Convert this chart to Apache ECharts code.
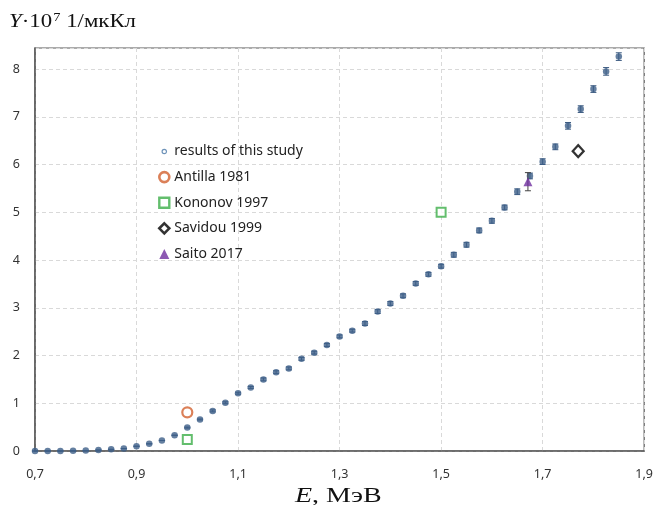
<!DOCTYPE html>
<html>
<head>
<meta charset="utf-8">
<script src="https://cdn.jsdelivr.net/npm/echarts@6/dist/echarts.min.js"></script>
<style>
  html, body { margin: 0; padding: 0; background: #fff; }
  #chart { width: 656px; height: 505px; }
</style>
</head>
<body>
<div id="chart"></div>
<script>
// this study: energy (MeV) and yield (x 1e7 1/uC)
const energies = [0.7, 0.725, 0.75, 0.775, 0.8, 0.825, 0.85, 0.875, 0.9, 0.925, 0.95, 0.975,
  1.0, 1.025, 1.05, 1.075, 1.1, 1.125, 1.15, 1.175, 1.2, 1.225, 1.25, 1.275, 1.3, 1.325,
  1.35, 1.375, 1.4, 1.425, 1.45, 1.475, 1.5, 1.525, 1.55, 1.575, 1.6, 1.625, 1.65, 1.675,
  1.7, 1.725, 1.75, 1.775, 1.8, 1.825, 1.85];
const yields = [0, 0, 0, 0.005, 0.01, 0.02, 0.035, 0.05, 0.1, 0.15, 0.22, 0.33,
  0.49, 0.66, 0.84, 1.01, 1.21, 1.33, 1.5, 1.65, 1.73, 1.93, 2.06, 2.22, 2.4, 2.52,
  2.67, 2.92, 3.09, 3.25, 3.51, 3.7, 3.87, 4.11, 4.32, 4.62, 4.82, 5.1, 5.43, 5.76,
  6.06, 6.37, 6.81, 7.16, 7.58, 7.95, 8.26];
const errors = [0, 0, 0, 0, 0, 0, 0, 0, 0, 0, 0, 0,
  0.01, 0.01, 0.02, 0.02, 0.02, 0.02, 0.03, 0.03, 0.03, 0.03, 0.03, 0.03, 0.03, 0.03,
  0.04, 0.04, 0.04, 0.04, 0.04, 0.04, 0.04, 0.05, 0.05, 0.05, 0.05, 0.05, 0.06, 0.06,
  0.06, 0.06, 0.07, 0.07, 0.07, 0.08, 0.08];

// other works
const antilla = [[1.0, 0.81]];
const kononov = [[1.0, 0.24], [1.5, 5.0]];
const savidou = [[1.77, 6.28]];
const saito = [[1.671, 5.64]];
const saitoErr = [0.19];

const xTicks = ['0,7', '0,9', '1,1', '1,3', '1,5', '1,7', '1,9'];

const studyData = energies.map((e, i) => [e, yields[i]]);
const studyErr = energies.map((e, i) => [e, yields[i] - errors[i], yields[i] + errors[i]]);
const saitoErrData = saito.map((p, i) => [p[0], p[1] - saitoErr[i], p[1] + saitoErr[i]]);

const errRender = (color) => (params, api) => {
  const lo = api.coord([api.value(0), api.value(1)]);
  const hi = api.coord([api.value(0), api.value(2)]);
  const w = 3;
  const st = { stroke: color, lineWidth: 1 };
  return {
    type: 'group',
    children: [
      { type: 'line', shape: { x1: lo[0], y1: lo[1], x2: hi[0], y2: hi[1] }, style: st },
      { type: 'line', shape: { x1: lo[0] - w, y1: lo[1], x2: lo[0] + w, y2: lo[1] }, style: st },
      { type: 'line', shape: { x1: hi[0] - w, y1: hi[1], x2: hi[0] + w, y2: hi[1] }, style: st }
    ]
  };
};

// small open circle centred in a 10x10 box for the legend
const smallCircle = 'path://M0,0M10,10M5,2.8A2.2,2.2,0,1,1,5,7.2A2.2,2.2,0,1,1,5,2.8Z';

const labelFont = 'Noto Sans';
const chart = echarts.init(document.getElementById('chart'));
chart.setOption({
  animation: false,
  grid: { left: 35, right: 11, top: 48, bottom: 54, show: true, borderColor: '#595959', borderWidth: 1.2 },
  graphic: [
    {
      type: 'text', x: 9, y: 22, scaleX: 1.2,
      style: {
        text: '{i|Y}·10{s|7} 1/мкКл',
        verticalAlign: 'middle',
        rich: {
          i: { fontFamily: 'Liberation Serif', fontStyle: 'italic', fontSize: 19, fill: '#111' },
          s: { fontFamily: 'Liberation Serif', fontSize: 12, verticalAlign: 'top', padding: [0, 0, 9, 1], fill: '#111' }
        },
        fontFamily: 'Liberation Serif', fontSize: 19, fill: '#111'
      }
    },
    {
      type: 'text', x: 295, y: 497, scaleX: 1.4,
      style: {
        text: '{i|E}, МэВ',
        verticalAlign: 'middle',
        rich: { i: { fontFamily: 'Liberation Serif', fontStyle: 'italic', fontSize: 20, fill: '#111' } },
        fontFamily: 'Liberation Serif', fontSize: 20, fill: '#111'
      }
    }
  ],
  legend: {
    orient: 'vertical', left: 153, top: 139.5, itemGap: 11.6, itemWidth: 10, itemHeight: 10,
    textStyle: { fontFamily: labelFont, fontSize: 14, lineHeight: 14, color: '#222' },
    data: [
      { name: 'results of this study', icon: smallCircle, itemStyle: { color: '#fff', borderColor: '#4a78a8', borderWidth: 1.2 } },
      { name: 'Antilla 1981', itemStyle: { borderWidth: 2.6 } },
      { name: 'Kononov 1997', itemStyle: { borderWidth: 2.4 } },
      { name: 'Savidou 1999', itemStyle: { borderWidth: 2.6 } },
      { name: 'Saito 2017' }
    ]
  },
  xAxis: {
    type: 'value', min: 0.7, max: 1.9, interval: 0.2,
    axisLine: { lineStyle: { color: '#595959', width: 1.5 } },
    axisTick: { show: false },
    axisLabel: {
      fontFamily: labelFont, fontSize: 12.5, color: '#333', margin: 17,
      formatter: (v) => xTicks[Math.round((v - 0.7) / 0.2)]
    },
    splitLine: { show: true, lineStyle: { color: '#d9d9d9', type: [4, 3] } }
  },
  yAxis: {
    type: 'value', min: 0, max: 8.44, interval: 1,
    axisLine: { show: true, lineStyle: { color: '#595959', width: 1.5 } },
    axisTick: { show: false },
    axisLabel: { fontFamily: labelFont, fontSize: 12.5, color: '#333', margin: 15, showMaxLabel: false },
    splitLine: { lineStyle: { color: '#d9d9d9', type: [4, 3] } }
  },
  series: [
    {
      name: 'study errors', type: 'custom', renderItem: errRender('#3b5a80'),
      data: studyErr, encode: { x: 0, y: [1, 2] }, z: 2, silent: true
    },
    {
      name: 'results of this study', type: 'scatter', data: studyData,
      symbol: 'circle', symbolSize: 6.5, itemStyle: { color: '#3d5f88' }, z: 3
    },
    {
      name: 'Antilla 1981', type: 'scatter', data: antilla,
      symbol: 'circle', symbolSize: 10,
      itemStyle: { color: '#fff', borderColor: '#d2602e', borderWidth: 2.2 }, z: 4
    },
    {
      name: 'Kononov 1997', type: 'scatter', data: kononov,
      symbol: 'rect', symbolSize: 9,
      itemStyle: { color: '#fff', borderColor: '#3cae48', borderWidth: 2 }, z: 4
    },
    {
      name: 'Savidou 1999', type: 'scatter', data: savidou,
      symbol: 'diamond', symbolSize: [11, 12],
      itemStyle: { color: '#fff', borderColor: '#000', borderWidth: 2.2 }, z: 4
    },
    {
      name: 'saito errors', type: 'custom', renderItem: errRender('#444'),
      data: saitoErrData, encode: { x: 0, y: [1, 2] }, z: 5, silent: true
    },
    {
      name: 'Saito 2017', type: 'scatter', data: saito,
      symbol: 'triangle', symbolSize: 9, itemStyle: { color: '#7030a0' }, z: 6
    }
  ]
});
</script>
</body>
</html>
